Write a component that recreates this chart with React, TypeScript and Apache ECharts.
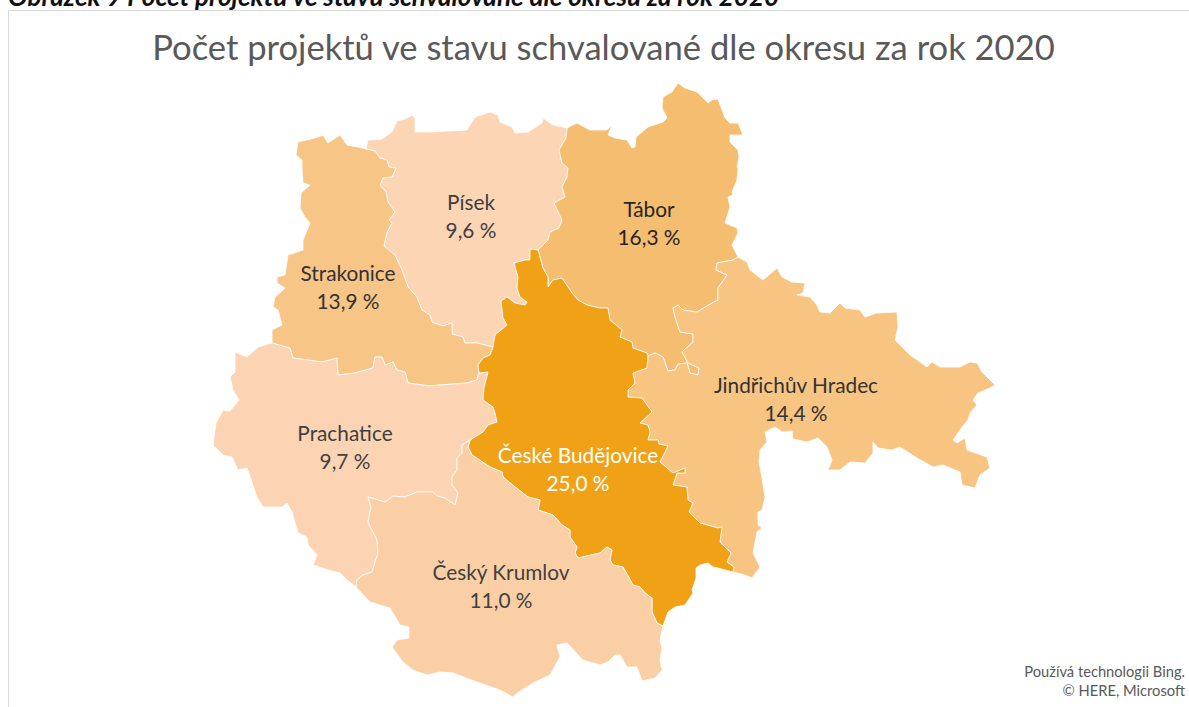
import React, { useEffect, useRef } from "react";
import * as echarts from "echarts";

type P = [number, number];

const districts = ["Písek", "Tábor", "Strakonice", "Jindřichův Hradec", "Prachatice", "České Budějovice", "Český Krumlov"];
const shares = [9.6, 16.3, 13.9, 14.4, 9.7, 25.0, 11.0];
const fills = ["#FCD5B5", "#F5BD70", "#F7C585", "#F8C482", "#FCD4B4", "#F0A116", "#FBCFA6"];
const labelColours = ["#404040", "#262626", "#333333", "#333333", "#404040", "#FFFFFF", "#404040"];
const labelPoints: P[] = [[471, 215], [649, 222], [348, 286], [796, 398], [345, 446], [578, 468], [501, 585]];

const titleText = "Počet projektů ve stavu schvalované dle okresu za rok 2020";
const captionText = "Obrázek 9 Počet projektů ve stavu schvalované dle okresu za rok 2020";
const creditLines = ["Používá technologii Bing.", "© HERE, Microsoft"];

// Traced boundary segments (shared between neighbouring districts)
const pisekNorth: P[] = [[366,149],[368,140],[382,139],[392,132],[397,121],[405,119],[412,115],[415,118],[415,132],[430,132],[467,130],[475,117],[490,112],[498,115],[500,122],[512,127],[515,133],[528,132],[542,123],[543,118],[553,125],[567,128]];
const pisekTabor: P[] = [[567,128],[566,138],[559,150],[562,163],[568,168],[567,177],[562,187],[565,197],[554,203],[562,220],[559,228],[550,232],[548,240],[538,250]];
const pisekCB: P[] = [[538,250],[530,249],[530,260],[525,260],[514,263],[518,277],[517,288],[520,297],[527,302],[525,305],[515,303],[507,297],[501,301],[503,318],[507,325],[495,335],[493,347]];
const strakPisek: P[] = [[366,149],[375,151],[380,158],[387,160],[389,167],[396,168],[392,177],[383,178],[380,185],[386,192],[388,202],[395,212],[389,220],[392,223],[387,232],[384,246],[395,255],[402,270],[408,287],[417,297],[422,310],[430,315],[432,322],[443,326],[452,323],[452,334],[463,337],[465,343],[477,343],[493,347]];
const strakCB: P[] = [[493,347],[490,355],[483,358],[478,365],[479,373]];
const strakPrach: P[] = [[479,373],[477,380],[467,383],[440,385],[430,386],[408,383],[405,372],[397,370],[393,362],[385,365],[382,357],[375,357],[373,368],[355,373],[338,375],[337,358],[322,362],[293,358],[290,348],[272,343]];
const strakOuter: P[] = [[272,343],[272,330],[282,325],[278,310],[273,307],[275,297],[285,288],[277,283],[277,277],[285,275],[288,255],[303,250],[303,240],[310,223],[305,217],[300,208],[301,193],[310,185],[303,183],[302,170],[302,160],[296,155],[298,142],[315,138],[323,135],[328,143],[340,135],[347,145],[363,148],[366,149]];
const cbPrach: P[] = [[479,373],[488,372],[484,388],[483,400],[493,407],[495,413],[497,422],[488,425],[483,432],[470,440]];
const prachKrum: P[] = [[470,440],[462,445],[462,453],[457,458],[457,470],[452,477],[452,485],[458,493],[455,505],[445,498],[437,496],[433,492],[417,492],[405,497],[393,496],[385,502],[368,497],[371,507],[368,522],[377,540],[378,553],[372,572],[363,575],[357,580],[356,587]];
const prachOuter: P[] = [[356,587],[347,580],[340,573],[328,570],[313,565],[317,555],[308,545],[307,537],[298,533],[292,512],[287,503],[282,507],[263,507],[257,497],[247,468],[238,470],[232,457],[223,455],[213,445],[216,423],[223,410],[230,411],[239,400],[233,390],[230,377],[235,372],[235,352],[247,357],[258,347],[272,343]];
const cbKrum: P[] = [[663,626],[657,623],[652,612],[652,598],[645,593],[640,587],[633,585],[623,567],[613,565],[610,560],[612,550],[607,547],[600,553],[578,558],[575,553],[577,547],[570,537],[570,530],[562,525],[553,515],[538,510],[540,500],[528,497],[515,487],[503,477],[502,472],[490,467],[472,455],[468,447],[470,440]];
const krumOuter: P[] = [[663,626],[660,640],[662,648],[660,660],[662,670],[655,678],[642,681],[637,667],[627,667],[620,655],[615,655],[608,662],[600,665],[583,660],[567,643],[557,645],[560,657],[550,675],[533,683],[517,693],[513,697],[500,690],[477,682],[453,673],[440,672],[427,675],[413,670],[403,662],[392,647],[397,640],[409,638],[409,627],[400,625],[390,608],[370,602],[356,587]];
const taborOuter: P[] = [[567,128],[577,123],[590,130],[600,130],[607,130],[612,125],[608,135],[615,138],[627,140],[632,148],[635,147],[636,137],[648,127],[663,122],[667,118],[662,108],[663,97],[672,92],[678,83],[685,88],[697,92],[708,103],[712,100],[718,99],[725,118],[730,123],[738,123],[743,135],[730,135],[730,142],[738,150],[739,157],[737,167],[738,168],[737,180],[732,192],[733,195],[728,197],[730,207],[725,223],[737,228],[738,233],[732,245],[738,257]];
const taborJH: P[] = [[738,257],[733,260],[717,263],[716,270],[727,275],[718,288],[718,300],[712,303],[697,312],[683,310],[678,305],[673,308],[675,317],[680,332],[693,334],[693,342],[682,352],[688,363],[699,368],[698,375],[690,373],[687,363],[678,364],[675,370],[668,371],[663,357],[655,353],[648,356]];
const taborCB: P[] = [[538,250],[543,268],[548,277],[548,287],[553,280],[562,278],[572,293],[578,300],[587,305],[600,308],[608,308],[610,320],[622,330],[620,337],[632,342],[633,348],[647,353],[648,356]];
const cbJH: P[] = [[648,356],[647,368],[633,373],[635,383],[628,390],[628,397],[642,398],[652,412],[640,423],[648,425],[650,432],[648,440],[658,440],[659,444],[668,446],[660,462],[673,473],[685,468],[685,473],[677,473],[673,485],[687,487],[688,500],[693,503],[689,512],[700,523],[718,528],[722,527],[720,542],[731,553],[727,562],[734,567],[733,572]];
const jhOuter: P[] = [[738,257],[747,262],[750,270],[763,280],[777,268],[782,277],[792,282],[805,283],[803,293],[797,295],[810,297],[817,305],[820,312],[830,313],[840,303],[845,308],[860,310],[865,317],[877,313],[897,312],[898,327],[895,340],[910,355],[927,367],[932,362],[940,367],[960,367],[970,362],[977,363],[982,372],[995,385],[990,388],[978,393],[973,400],[977,405],[970,413],[968,420],[962,427],[953,440],[957,443],[965,438],[967,450],[987,457],[990,468],[980,475],[975,488],[962,485],[960,472],[943,465],[933,467],[917,458],[900,447],[892,450],[878,448],[873,442],[873,453],[865,463],[850,462],[840,470],[828,470],[832,460],[827,447],[818,438],[807,442],[793,439],[792,431],[782,432],[775,427],[765,432],[767,442],[760,450],[759,462],[762,478],[765,497],[762,510],[758,512],[758,525],[762,528],[757,532],[753,553],[760,567],[752,578],[745,575],[733,572]];
const cbOuter: P[] = [[733,572],[725,570],[718,568],[713,567],[708,563],[700,565],[696,568],[696,578],[692,590],[693,593],[685,605],[675,607],[668,612],[663,626]];

const rev = (s: P[]) => [...s].reverse();
const rings: P[][][] = [
  [pisekNorth, pisekTabor, pisekCB, rev(strakPisek)],
  [taborOuter, taborJH, rev(taborCB), rev(pisekTabor)],
  [strakOuter, strakPisek, strakCB, strakPrach],
  [jhOuter, rev(cbJH), rev(taborJH)],
  [rev(strakPrach), cbPrach, prachKrum, prachOuter],
  [taborCB, cbJH, cbOuter, cbKrum, rev(cbPrach), rev(strakCB), rev(pisekCB)],
  [prachKrum, rev(krumOuter), cbKrum],
];

// Geo latitude grows upwards, so the traced y values are negated.
const toGeo = ([x, y]: P): P => [x, -y];
const geoJson = {
  type: "FeatureCollection",
  features: districts.map((name, i) => ({
    type: "Feature",
    properties: { name, cp: toGeo(labelPoints[i]) },
    geometry: { type: "Polygon", coordinates: [rings[i].flat().map(toGeo)] },
  })),
};

const FONT = "Lato";

export default function App() {
  const ref = useRef<HTMLDivElement>(null);
  useEffect(() => {
    document.body.style.margin = "0";
    echarts.registerMap("okresy", geoJson as any);
    const chart = echarts.init(ref.current!, undefined, { renderer: "svg" });
    chart.setOption({
      animation: false,
      backgroundColor: "#FFFFFF",
      title: {
        text: titleText,
        left: 598.5,
        top: 24,
        textAlign: "center",
        textStyle: { fontFamily: FONT, fontSize: 34.6, fontWeight: 400, color: "#595959" },
      },
      graphic: [
        { type: "rect", shape: { x: 8.5, y: 10.5, width: 1400, height: 900 }, style: { fill: "none", stroke: "#D9D9D9", lineWidth: 1 }, silent: true },
        { type: "text", x: 8, y: 9, style: { text: captionText, fontFamily: FONT, fontSize: 26.1, fontWeight: 700, fontStyle: "italic", fill: "#111111", textVerticalAlign: "bottom" }, silent: true },
        { type: "text", x: 1185, y: 671, style: { text: creditLines[0], fontFamily: FONT, fontSize: 14.7, fill: "#595959", textAlign: "right", textVerticalAlign: "middle" }, silent: true },
        { type: "text", x: 1185, y: 690, style: { text: creditLines[1], fontFamily: FONT, fontSize: 14.7, fill: "#595959", textAlign: "right", textVerticalAlign: "middle" }, silent: true },
      ],
      series: [
        {
          type: "map",
          map: "okresy",
          aspectScale: 1,
          left: 213,
          top: 83,
          width: 782,
          height: 614,
          roam: false,
          selectedMode: false,
          silent: true,
          itemStyle: { borderColor: "rgba(255,255,255,0.8)", borderWidth: 1 },
          emphasis: { disabled: true },
          data: districts.map((name, i) => ({
            name,
            value: shares[i],
            itemStyle: { areaColor: fills[i] },
            label: { color: labelColours[i] },
          })),
          label: {
            show: true,
            fontFamily: FONT,
            fontSize: 20.8,
            lineHeight: 28,
            align: "center",
            formatter: (p: any) => `${p.name}\n${Number(p.value).toFixed(1).replace(".", ",")} %`,
          },
        },
      ],
    });
    return () => chart.dispose();
  }, []);
  return <div ref={ref} style={{ width: 1189, height: 707 }} />;
}
